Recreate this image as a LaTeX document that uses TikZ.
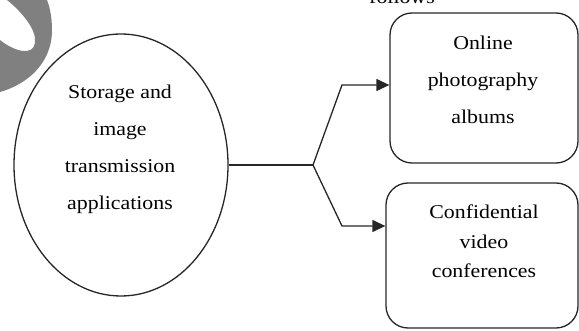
\documentclass[tikz,border=0pt]{standalone}
\usepackage{fontspec}
\setmainfont{Liberation Serif}[FakeStretch=1.12]
\usetikzlibrary{shapes.geometric,arrows.meta}
\begin{document}
\begin{tikzpicture}[x=1pt,y=-1pt,
  txt/.style={align=center,inner sep=0pt,font=\fontsize{19.5}{37}\selectfont},
  outline/.style={draw=black!85,line width=1.3pt},
  conn/.style={draw=black!85,line width=1.3pt},
  arr/.style={conn,-{Triangle[length=13pt,width=12pt]}}]
\useasboundingbox (0,0) rectangle (579,331);
% watermark shape
\fill[black!50] (7,0) .. controls (22,12) and (37,30) .. (35,43)
  .. controls (33,56) and (15,52) .. (0,40) -- (0,92)
  .. controls (25,85) and (52,65) .. (52,30) .. controls (52,15) and (49,5) .. (47,0) -- cycle;
% nodes
\node[ellipse,outline,minimum width=214pt,minimum height=262pt,inner sep=0pt] (src) at (121,165) {};
\node[txt] (srct) at (120,149) {Storage and\\image\\transmission\\applications};
\node[rectangle,rounded corners=22pt,outline,minimum width=188pt,minimum height=150pt,inner sep=0pt] (b1) at (484,88) {};
\node[txt] (b1t) at (483,79.5) {Online\\photography\\albums};
\node[rectangle,rounded corners=22pt,outline,minimum width=192pt,minimum height=145pt,inner sep=0pt] (b2) at (482,255.5) {};
\node[txt,font=\fontsize{19.5}{29.5}\selectfont] (b2t) at (484,241.5) {Confidential\\video\\conferences};
\node[txt,anchor=base] (top) at (402,4) {follows};
% connectors
\coordinate (fork) at (313,165);
\coordinate (up) at (342,85);
\coordinate (dn) at (342,226);
\draw[conn] (src.east) -- (fork);
\draw[arr] (fork) -- (up) -- (up -| b1.west);
\draw[arr] (fork) -- (dn) -- (dn -| b2.west);
\end{tikzpicture}
\end{document}
